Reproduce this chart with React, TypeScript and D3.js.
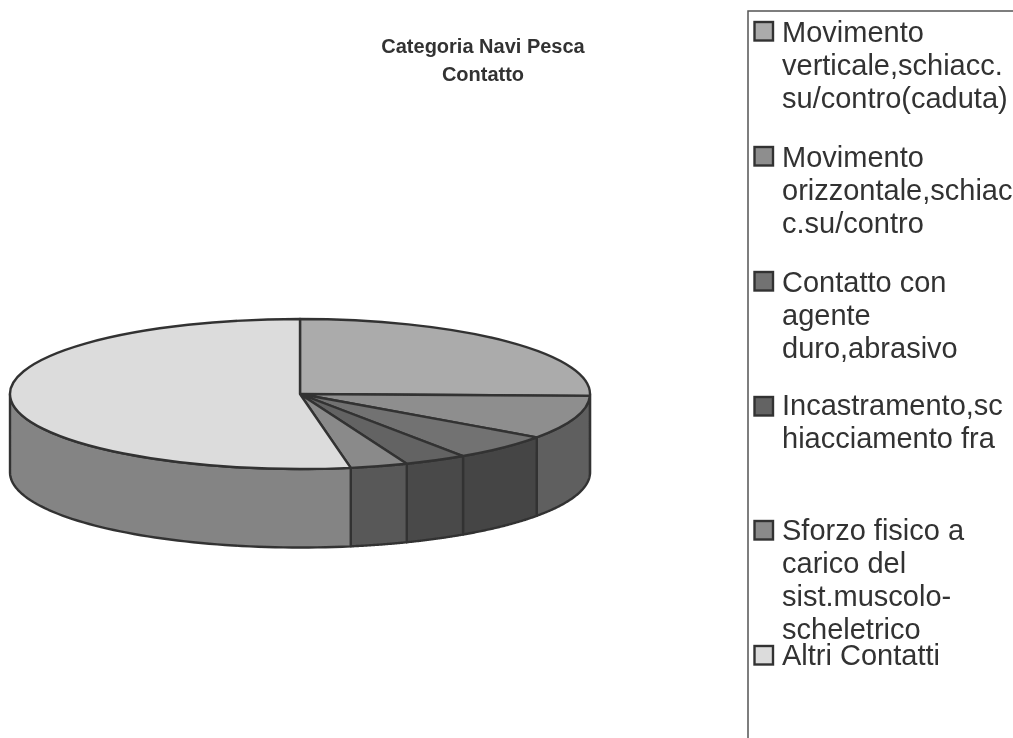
import React from "react";
import * as d3 from "d3";

const titleLines = ["Categoria Navi Pesca", "Contatto"];
const categories = [
  "Movimento verticale,schiacc. su/contro(caduta)",
  "Movimento orizzontale,schiacc.su/contro",
  "Contatto con agente duro,abrasivo",
  "Incastramento,schiacciamento fra",
  "Sforzo fisico a carico del sist.muscolo-scheletrico",
  "Altri Contatti",
];
const values = [25.4, 9.4, 5.7, 3.5, 3.2, 52.8];
const topColors = ["#ababab", "#8e8e8e", "#727272", "#636363", "#8a8a8a", "#dcdcdc"];
const sideColors = ["#6a6a6a", "#5e5e5e", "#454545", "#4a4a4a", "#585858", "#848484"];
const legendLines = [
  ["Movimento", "verticale,schiacc.", "su/contro(caduta)"],
  ["Movimento", "orizzontale,schiac", "c.su/contro"],
  ["Contatto con", "agente", "duro,abrasivo"],
  ["Incastramento,sc", "hiacciamento fra"],
  ["Sforzo fisico a", "carico del", "sist.muscolo-", "scheletrico"],
  ["Altri Contatti"],
];
const legendFirstBaselines = [42, 167, 292, 415, 540, 665];
const legendSwatchTops = [22, 147, 272, 397, 521, 646];

const W = 1013, H = 738;
const cx = 300, cy = 394, rx = 290, ry = 75, depth = 78.5;
const stroke = "#333";
const font = "'Liberation Sans', Arial, sans-serif";

export default function App() {
  const slices = d3.pie<number>().sort(null).startAngle(0).endAngle(2 * Math.PI)(values);
  const arc = d3.arc<d3.PieArcDatum<number>>().innerRadius(0).outerRadius(rx);
  const px = (a: number) => cx + rx * Math.sin(a);
  const py = (a: number) => cy - ry * Math.cos(a);
  const line = d3.line<number[]>().x((d) => d[0]).y((d) => d[1]);

  const side = (s: d3.PieArcDatum<number>) => {
    // The visible wall is the front half of the ellipse
    const a0 = Math.max(s.startAngle, Math.PI / 2);
    const a1 = Math.min(s.endAngle, (3 * Math.PI) / 2);
    if (a1 <= a0) return null;
    const as = d3.range(0, 61).map((i) => a0 + ((a1 - a0) * i) / 60);
    const top = as.map((a) => [px(a), py(a)]);
    const bottom = as.slice().reverse().map((a) => [px(a), py(a) + depth]);
    return line([...top, ...bottom]) + "Z";
  };

  return (
    <svg width={W} height={H} viewBox={`0 0 ${W} ${H}`} style={{ position: "fixed", left: 0, top: 0, background: "#fff" }}>
      <defs>
        <filter id="soft" x="-2%" y="-2%" width="104%" height="104%">
          <feGaussianBlur stdDeviation="0.75" />
        </filter>
      </defs>
      <g filter="url(#soft)">
        {titleLines.map((t, i) => (
          <text key={t} x={483} y={53 + i * 28} textAnchor="middle" fontFamily={font} fontWeight="bold" fontSize={20} fill="#333">
            {t}
          </text>
        ))}

        {slices.map((s, i) => {
          const d = side(s);
          return d ? <path key={i} d={d} fill={sideColors[i]} stroke={stroke} strokeWidth={2.4} strokeLinejoin="round" /> : null;
        })}
        <g transform={`translate(${cx},${cy}) scale(1,${ry / rx})`}>
          {slices.map((s, i) => (
            <path key={i} d={arc(s) as string} fill={topColors[i]} stroke={stroke} strokeWidth={2.4} strokeLinejoin="round" vectorEffect="non-scaling-stroke" />
          ))}
        </g>

        <path d={`M748 738V11H${W}`} fill="none" stroke="#555" strokeWidth={1.5} />
        {legendLines.map((lines, i) => (
          <g key={categories[i]}>
            <rect x={754.5} y={legendSwatchTops[i]} width={18.5} height={18.5} fill={topColors[i]} stroke="#333" strokeWidth={2.4} />
            {lines.map((l, j) => (
              <text key={j} x={782} y={legendFirstBaselines[i] + j * 33} fontFamily={font} fontSize={29} fill="#333">
                {l}
              </text>
            ))}
          </g>
        ))}
      </g>
    </svg>
  );
}
